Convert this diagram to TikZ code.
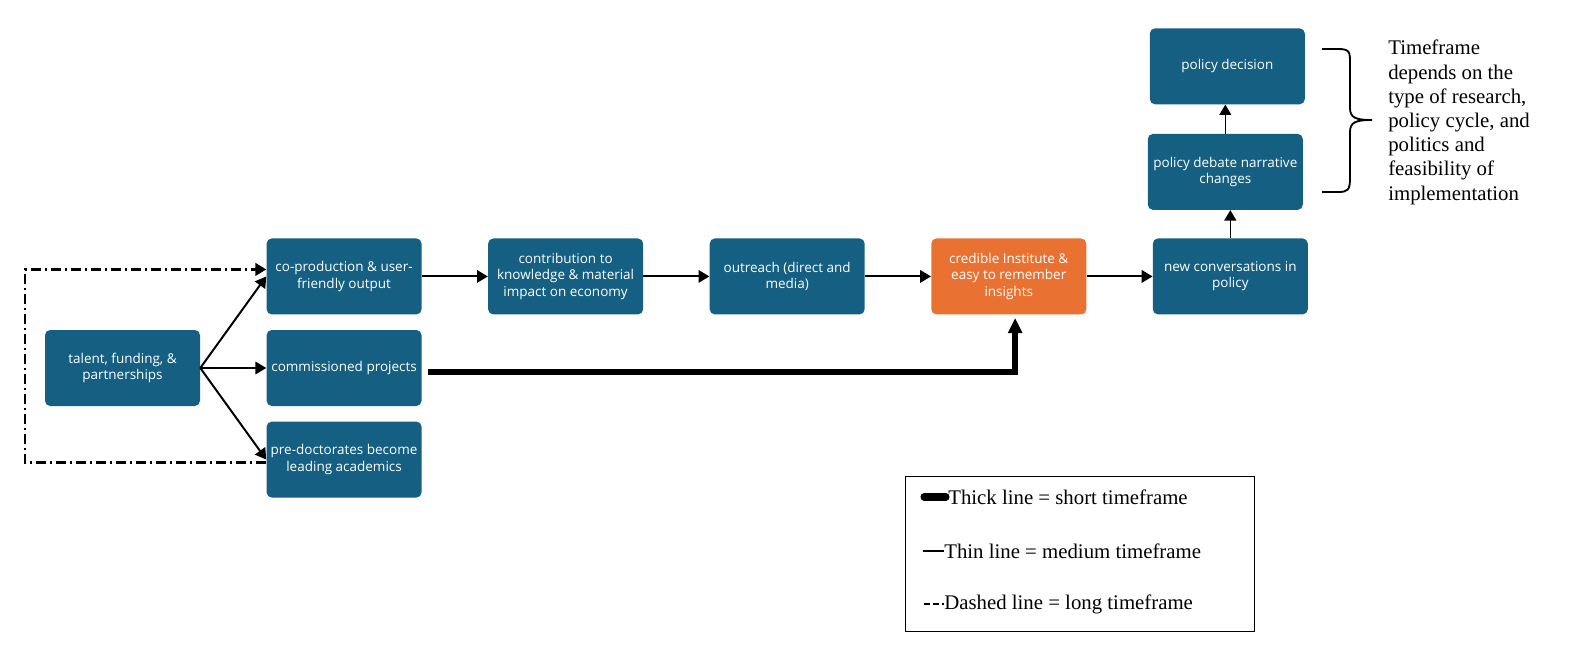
\documentclass[tikz,border=0pt]{standalone}
\usepackage{fontspec}
\setmainfont{Liberation Serif}
\newfontfamily\boxfont{Open Sans}
\usepackage{xcolor}
\usepackage{tikz}
\usetikzlibrary{arrows.meta, positioning}

\definecolor{boxblue}{HTML}{156082}
\definecolor{boxorange}{HTML}{E97132}

\begin{document}
\begin{tikzpicture}[
    node distance=0.375cm and 1.65cm,
    box/.style={rectangle, rounded corners=1.3mm, fill=boxblue, text=white, align=center,
        minimum width=3.875cm, minimum height=1.9cm, inner sep=1pt,
        font=\boxfont\fontsize{9.6}{11.6}\selectfont},
    hot/.style={box, fill=boxorange},
    arr/.style={-{Triangle[length=2.7mm,width=3.1mm]}, line width=1.4pt},
    uparr/.style={-{Triangle[length=2.6mm,width=3mm]}, line width=0.9pt},
    fatarr/.style={-{Triangle[length=3.8mm,width=3.4mm]}, line width=4.2pt},
    longarr/.style={-{Triangle[length=2.7mm,width=3.1mm]}, line width=1.6pt,
        dash pattern=on 2.5mm off 1mm on 0.5mm off 1mm},
    keytext/.style={anchor=west, inner sep=0pt, font=\fontsize{14.8}{17.2}\selectfont}
]
\useasboundingbox (0,0) rectangle (39.25,-16.2);

\node[box] (talent) at (3.0625,-9.2) {talent, funding, \&\\partnerships};
\node[box, right=of talent] (commissioned) {commissioned projects};
\node[box, above=of commissioned] (coprod) {co-production \& user-\\friendly output};
\node[box, below=of commissioned] (predoc) {pre-doctorates become\\leading academics};
\node[box, right=of coprod] (contrib) {contribution to\\knowledge \& material\\impact on economy};
\node[box, right=of contrib] (outreach) {outreach (direct and\\media)};
\node[hot, right=of outreach] (credible) {credible Institute \&\\easy to remember\\insights};
\node[box, right=of credible] (newconv) {new conversations in\\policy};
\node[box, above=0.7cm of newconv, xshift=-0.125cm] (debate) {policy debate narrative\\changes};
\node[box, above=0.725cm of debate, xshift=0.05cm] (decision) {policy decision};

\foreach \t in {coprod,commissioned,predoc} \draw[arr] (talent.east) -- (\t.west);
\draw[arr] (coprod) -- (contrib);
\draw[arr] (contrib) -- (outreach);
\draw[arr] (outreach) -- (credible);
\draw[arr] (credible) -- (newconv);
\draw[uparr] (newconv.north) -- (newconv.north |- debate.south);
\draw[uparr] (debate.north) -- (debate.north |- decision.south);
\draw[fatarr] ([xshift=1.5mm,yshift=-1mm]commissioned.east) -| ([xshift=1.6mm,yshift=-0.8mm]credible.south);
\draw[longarr] ([yshift=-0.075cm]predoc.west) -- ++(-6.025,0) |- ([yshift=0.175cm]coprod.west);

% brace and note
\draw[line width=1.3pt] (33.05,-1.225) -- (33.45,-1.225)
    .. controls (33.75,-1.225) and (33.75,-1.3) .. (33.75,-1.6) -- (33.75,-2.7)
    .. controls (33.75,-2.95) and (33.9,-3.0) .. (34.3,-3.0)
    .. controls (33.9,-3.0) and (33.75,-3.05) .. (33.75,-3.3) -- (33.75,-4.45)
    .. controls (33.75,-4.75) and (33.7,-4.8) .. (33.45,-4.8) -- (33.05,-4.8);
\node[anchor=north west, align=left, inner sep=0pt, font=\fontsize{14.8}{17.2}\selectfont] (note) at (34.7,-1.0)
    {Timeframe\\depends on the\\type of research,\\policy cycle, and\\politics and\\feasibility of\\implementation};

% legend
\node[draw, line width=0.6pt, minimum width=8.725cm, minimum height=3.875cm, inner sep=0pt] (legend) at (26.99,-13.84) {};
\node[keytext] (thickkey) at (23.7,-12.425) {Thick line = short timeframe};
\node[keytext] (thinkey) at (23.6,-13.775) {Thin line = medium timeframe};
\node[keytext] (dashkey) at (23.6,-15.1) {Dashed line = long timeframe};
\draw[line width=5pt, line cap=round] ([xshift=-6mm]thickkey.west) -- ([xshift=-0.5mm]thickkey.west);
\draw[line width=2pt] ([xshift=-5.25mm]thinkey.west) -- (thinkey.west);
\draw[line width=1.8pt, dash pattern=on 1.6mm off 0.6mm] ([xshift=-5mm]dashkey.west) -- (dashkey.west);
\end{tikzpicture}
\end{document}
